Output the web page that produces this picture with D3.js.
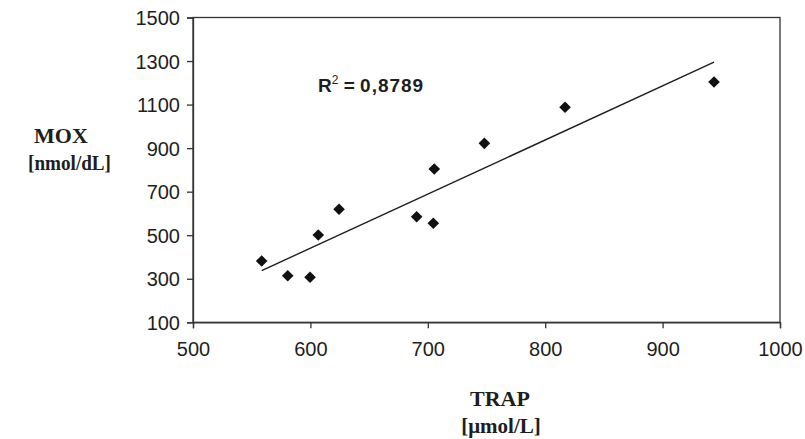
<!DOCTYPE html>
<html><head><meta charset="utf-8">
<script src="https://cdn.jsdelivr.net/npm/d3@7"></script>
<style>body{margin:0;background:#fff}</style>
</head><body>
<svg id="c" width="805" height="439"></svg>
<script>
const trap = [558.5, 580.7, 599.7, 606.7, 624.4, 690.5, 704.7, 705.5, 748.2, 816.9, 943.8];
const mox  = [381.6, 314, 306.7, 501, 619, 585, 554.8, 804, 922, 1087.6, 1204];
const xTicks = [500, 600, 700, 800, 900, 1000];
const yTicks = [100, 300, 500, 700, 900, 1100, 1300, 1500];
const r2Label = "0,8789";

const svg = d3.select("#c");
const x = d3.scaleLinear().domain([500, 1000]).range([193, 780]);
const y = d3.scaleLinear().domain([100, 1500]).range([322.3, 17.5]);
const ink = "#1e1e1e";

// frame
svg.append("rect").attr("x", x(500)).attr("y", y(1500))
  .attr("width", x(1000) - x(500)).attr("height", y(100) - y(1500))
  .attr("fill", "none").attr("stroke", "#333").attr("stroke-width", 1.3);

const xAxis = svg.append("g").attr("transform", `translate(0,${y(100)})`)
  .call(d3.axisBottom(x).tickValues(xTicks).tickSize(6).tickPadding(14).tickFormat(d3.format("d")));
const yAxis = svg.append("g").attr("transform", `translate(${x(500)},0)`)
  .call(d3.axisLeft(y).tickValues(yTicks).tickSize(6).tickPadding(7).tickFormat(d3.format("d")));
[xAxis, yAxis].forEach(a => {
  a.select(".domain").attr("stroke", "#333").attr("stroke-width", 1.3);
  a.selectAll(".tick line").attr("stroke", "#333").attr("stroke-width", 1.3);
  a.selectAll(".tick text").attr("fill", ink)
    .style("font-family", "'Liberation Sans', Arial, sans-serif").style("font-size", "20px");
});
yAxis.selectAll(".tick text").attr("dy", "0.36em");

// regression
const mx = d3.mean(trap), my = d3.mean(mox);
let sxy = 0, sxx = 0;
trap.forEach((v, i) => { sxy += (v - mx) * (mox[i] - my); sxx += (v - mx) * (v - mx); });
const slope = sxy / sxx, icpt = my - slope * mx;
const [x0, x1] = d3.extent(trap);
svg.append("line").attr("x1", x(x0)).attr("y1", y(icpt + slope * x0))
  .attr("x2", x(x1)).attr("y2", y(icpt + slope * x1))
  .attr("stroke", ink).attr("stroke-width", 1.4);

// points
const pts = trap.map((v, i) => ({x: v, y: mox[i]}));
svg.append("g").selectAll("path").data(pts).join("path")
  .attr("transform", d => `translate(${x(d.x)},${y(d.y)})`)
  .attr("d", "M0,-5.8L5.8,0L0,5.8L-5.8,0Z").attr("fill", "#111");

// R² label
const t = svg.append("text").attr("x", 318).attr("y", 92)
  .style("font-family", "'Liberation Sans', Arial, sans-serif")
  .style("font-size", "19px").style("font-weight", "bold").attr("fill", ink);
t.append("tspan").text("R");
t.append("tspan").attr("dy", -8).style("font-size", "12px").style("font-weight", "normal").text("2");
t.append("tspan").attr("dy", 8).text(" = ");
t.append("tspan").style("letter-spacing", "1px").text(r2Label);

// axis titles
const serif = "'Liberation Serif', 'Times New Roman', serif";
const lab = (txt, cx, by, fs, len) => {
  const e = svg.append("text").attr("x", cx).attr("y", by)
    .attr("text-anchor", "middle").style("font-family", serif).style("font-size", fs + "px")
    .style("font-weight", "bold").attr("fill", ink).text(txt);
  if (len) e.attr("textLength", len).attr("lengthAdjust", "spacingAndGlyphs");
  return e;
};
lab("MOX", 61, 143, 22);
lab("[nmol/dL]", 69.5, 170, 21, 83);
lab("TRAP", 500, 406, 22);
lab("[\u03bcmol/L]", 501, 433, 21);
</script>
</body></html>
